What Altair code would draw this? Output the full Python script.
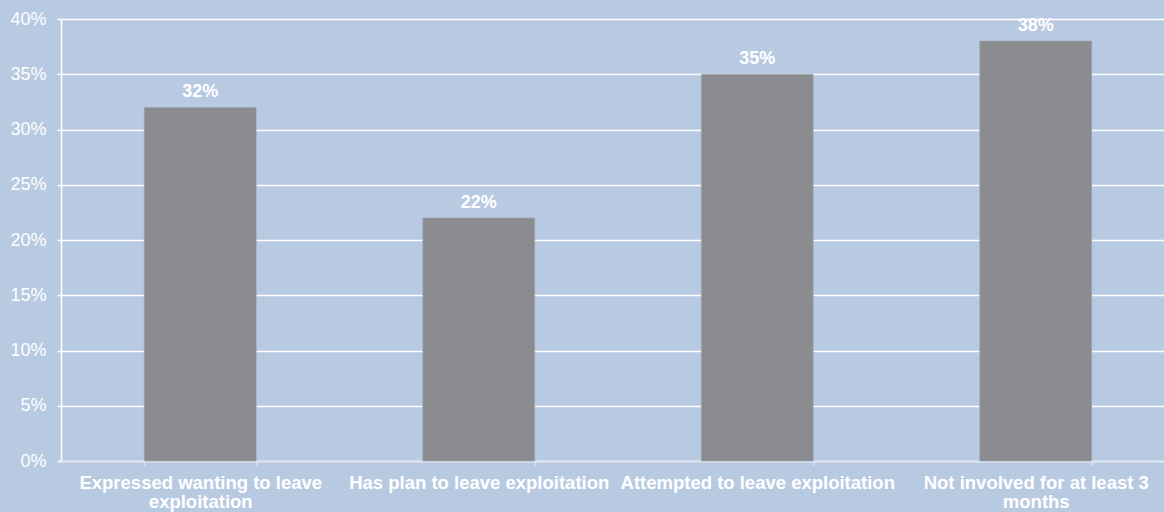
import altair as alt
import pandas as pd

categories = [
    "Expressed wanting to leave exploitation",
    "Has plan to leave exploitation",
    "Attempted to leave exploitation",
    "Not involved for at least 3 months",
]
values = [0.32, 0.22, 0.35, 0.38]

# two-line axis labels for the long category names
wrapped = {
    "Expressed wanting to leave exploitation": ["Expressed wanting to leave", "exploitation"],
    "Not involved for at least 3 months": ["Not involved for at least 3", "months"],
}

df = pd.DataFrame({"category": categories, "share": values})

label_expr = ""
for key, lines in wrapped.items():
    parts = ", ".join(f"'{s}'" for s in lines)
    label_expr += f"datum.value == '{key}' ? [{parts}] : "
label_expr += "datum.value"

FONT = "Liberation Sans"
BG = "#b8c9e2"
BAR = "#8b8c90"

x = alt.X(
    "category:N",
    sort=categories,
    title=None,
    scale=alt.Scale(range=[0, 1114], paddingInner=0.598, paddingOuter=0.299),
    axis=alt.Axis(
        labelAngle=0,
        labelExpr=label_expr,
        labelColor="white",
        labelFont=FONT,
        labelFontSize=18.5,
        labelFontWeight="bold",
        labelLineHeight=19,
        labelPadding=8,
        labelLimit=400,
        domainColor="#dfe6f1",
        domainWidth=1.5,
        tickColor="#dfe6f1",
        tickSize=4,
        tickWidth=1.5,
        tickBand="extent",
        bandPosition=0,
        grid=False,
    ),
)

y = alt.Y(
    "share:Q",
    title=None,
    scale=alt.Scale(domain=[0, 0.4], nice=False),
    axis=alt.Axis(
        values=[0, 0.05, 0.1, 0.15, 0.2, 0.25, 0.3, 0.35, 0.4],
        format=".0%",
        labelColor="white",
        labelFont=FONT,
        labelFontSize=18,
        labelPadding=11,
        domainColor="white",
        domainWidth=1.5,
        tickColor="white",
        tickSize=4,
        tickWidth=1.5,
        grid=True,
        gridColor="white",
        gridWidth=1.5,
    ),
)

bars = alt.Chart(df).mark_bar(color=BAR, stroke="#9fa6b3", strokeWidth=0.6).encode(x=x, y=y)

labels = alt.Chart(df).mark_text(
    color="white",
    font=FONT,
    fontSize=18,
    fontWeight="bold",
    baseline="alphabetic",
    dy=-10,
).encode(
    x=alt.X("category:N", sort=categories),
    y="share:Q",
    text=alt.Text("share:Q", format=".0%"),
)

chart = (
    alt.layer(bars, labels)
    .properties(
        width=1103,
        height=442,
        background=BG,
        padding={"left": 61, "top": 19, "right": 0, "bottom": 51},
        autosize=alt.AutoSizeParams(type="none"),
    )
    .configure_view(stroke=None)
)

chart.save("out.html", embed_options={"renderer": "svg", "actions": False})
